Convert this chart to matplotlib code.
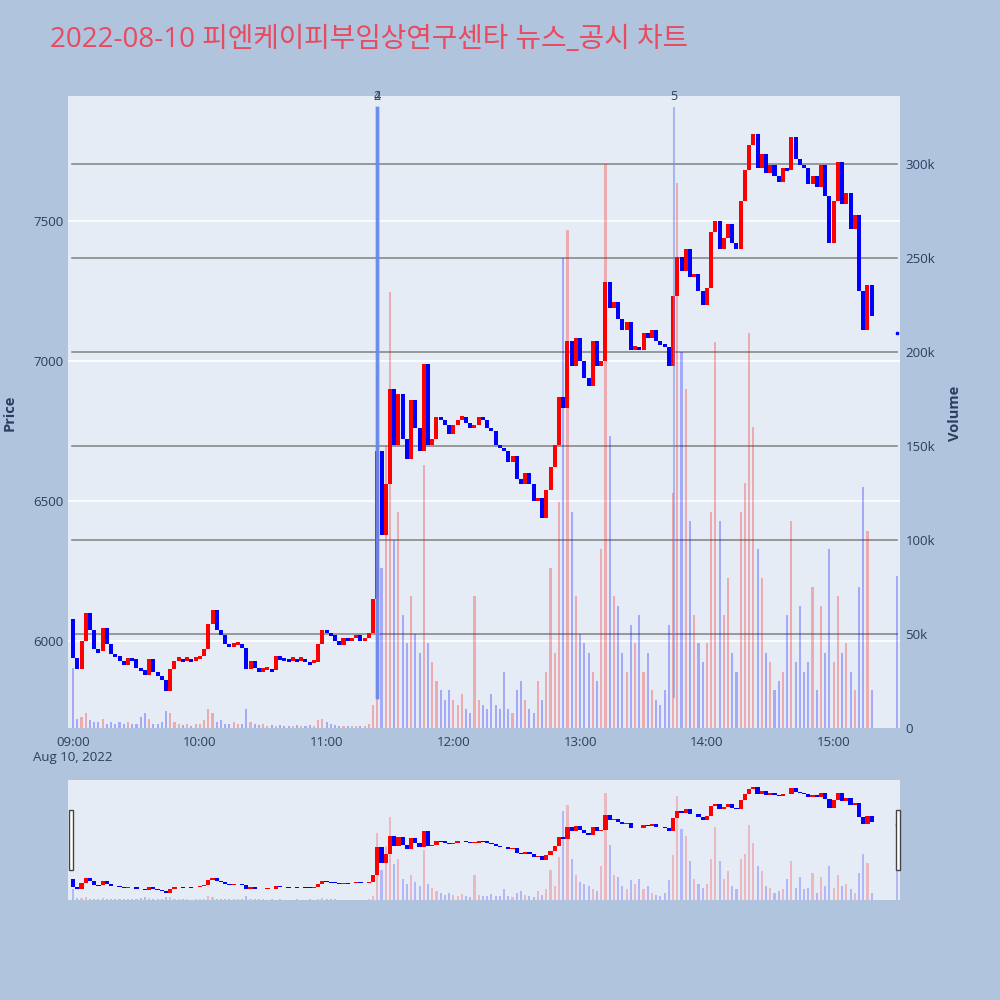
import numpy as np
import matplotlib
matplotlib.use("Agg")
import matplotlib.pyplot as plt
from matplotlib.patches import Rectangle
from matplotlib.transforms import blended_transform_factory

# ── data (2-minute candles from 09:00) ────────────────────────────────
minutes = np.arange(0, 380, 2)
first_open = 6080
closes = [
    5940, 5900, 6000, 6100, 6040, 5970, 5965, 6045, 5990, 5955,
    5945, 5930, 5915, 5940, 5935, 5905, 5895, 5880, 5935, 5890,
    5875, 5860, 5820, 5900, 5930, 5935, 5930, 5935, 5930, 5935,
    5945, 5970, 6060, 6110, 6040, 6020, 5990, 5980, 5985, 5990,
    5975, 5900, 5930, 5905, 5890, 5895, 5900, 5895, 5945, 5940,
    5935, 5930, 5935, 5930, 5935, 5925, 5920, 5925, 5990, 6040,
    6030, 6020, 6000, 5985, 6010, 6000, 6010, 6020, 6000, 6010,
    6030, 6150, 6680, 6380, 6560, 6900, 6700, 6880, 6720, 6650,
    6860, 6760, 6680, 6990, 6700, 6720, 6800, 6790, 6770, 6740,
    6770, 6790, 6800, 6780, 6760, 6770, 6800, 6790, 6760, 6750,
    6700, 6690, 6680, 6640, 6660, 6580, 6560, 6600, 6560, 6500,
    6510, 6440, 6540, 6620, 6700, 6870, 6830, 7070, 6980, 7080,
    7000, 6940, 6910, 7070, 6980, 7000, 7280, 7190, 7210, 7150,
    7110, 7140, 7040, 7050, 7040, 7100, 7080, 7110, 7070, 7060,
    7050, 6980, 7230, 7370, 7320, 7400, 7300, 7310, 7250, 7200,
    7260, 7460, 7500, 7400, 7440, 7490, 7420, 7400, 7570, 7680,
    7770, 7810, 7690, 7740, 7670, 7700, 7660, 7640, 7690, 7680,
    7800, 7720, 7700, 7690, 7630, 7660, 7620, 7700, 7590, 7420,
    7570, 7710, 7560, 7600, 7470, 7520, 7250, 7110, 7270, 7160,
]
volumes = [
    32000, 5000, 6000, 8000, 4000, 3000, 3000, 5000, 2000, 3000,
    2000, 3000, 2000, 3000, 2000, 2000, 6000, 8000, 5000, 2000,
    2000, 3000, 9000, 8000, 3000, 2000, 1500, 2000, 1000, 2000,
    2000, 4000, 10000, 8000, 3000, 4000, 2000, 2000, 3000, 2000,
    2000, 10000, 3000, 2000, 1500, 2000, 1000, 1500, 1000, 1500,
    1000, 1000, 1000, 1500, 1000, 1000, 1500, 1000, 4000, 5000,
    3000, 2000, 1500, 1000, 1000, 800, 1000, 1000, 800, 1000,
    2000, 12000, 188000, 85000, 150000, 232000, 100000, 115000, 60000, 45000,
    70000, 50000, 40000, 140000, 45000, 35000, 25000, 20000, 15000, 20000,
    15000, 12000, 18000, 10000, 8000, 70000, 15000, 12000, 10000, 18000,
    12000, 10000, 30000, 10000, 8000, 20000, 25000, 15000, 10000, 8000,
    25000, 15000, 30000, 85000, 40000, 120000, 250000, 265000, 115000, 70000,
    50000, 45000, 40000, 30000, 25000, 95000, 300000, 155000, 70000, 65000,
    40000, 30000, 55000, 45000, 60000, 30000, 40000, 20000, 15000, 12000,
    20000, 55000, 125000, 290000, 200000, 180000, 110000, 60000, 45000, 35000,
    45000, 115000, 205000, 110000, 60000, 80000, 40000, 30000, 115000, 130000,
    210000, 160000, 95000, 80000, 40000, 35000, 20000, 25000, 30000, 60000,
    110000, 35000, 65000, 30000, 35000, 75000, 20000, 65000, 40000, 95000,
    35000, 70000, 40000, 45000, 30000, 20000, 75000, 128000, 105000, 20000,
]
# closing auction print at 15:30
close_minute, close_price, close_volume = 390, 7100, 81000

# news markers (minute offset, label)
news = [(144, "2"), (144, "4"), (284.5, "5")]

price_ticks = [6000, 6500, 7000, 7500]
vol_ticks = [0, 50000, 100000, 150000, 200000, 250000, 300000]
vol_labels = ["0", "50k", "100k", "150k", "200k", "250k", "300k"]
time_ticks = [0, 60, 120, 180, 240, 300, 360]
time_labels = ["09:00", "10:00", "11:00", "12:00", "13:00", "14:00", "15:00"]

TITLE = "2022-08-10 피엔케이피부임상연구센타 뉴스_공시 차트"

BG = "#b0c4de"
PLOT_BG = "#e5ecf6"
FONT_C = "#2a3f5f"
UP, DOWN = "#ff0000", "#0000ff"

closes = np.array(closes, dtype=float)
opens = np.concatenate([[first_open], closes[:-1]])
colors = np.where(closes >= opens, UP, DOWN)
body = closes - opens
body = np.where(np.abs(body) < 12, np.where(body >= 0, 12, -12), body)

plt.rcParams['font.family'] = ['Open Sans', 'DejaVu Sans']

fig = plt.figure(figsize=(10, 10), dpi=100, facecolor=BG)
XLIM = (-2.4, 391.4)
PLIM = (5689, 7946)
VLIM = (0, 336000)


def draw_chart(ax_vol, ax_price, vol_alpha=0.28, cw=1.9):
    ax_vol.set_facecolor(PLOT_BG)
    ax_price.patch.set_visible(False)
    ax_vol.bar(minutes, volumes, width=1.0, color=colors, alpha=vol_alpha,
               linewidth=0, zorder=2)
    ax_vol.bar([close_minute], [close_volume], width=1.0, color=DOWN,
               alpha=vol_alpha, linewidth=0, zorder=2)
    ax_price.bar(minutes, body, bottom=opens, width=cw, color=colors,
                 linewidth=0, zorder=3)
    ax_price.plot([close_minute], [close_price], 's', ms=1.5, color=DOWN)
    ax_vol.set_xlim(*XLIM)
    ax_vol.set_ylim(*VLIM)
    ax_price.set_ylim(*PLIM)
    for a in (ax_vol, ax_price):
        for s in a.spines.values():
            s.set_visible(False)


# ── main panel ────────────────────────────────────────────
ax_vol = fig.add_axes([0.068, 0.272, 0.832, 0.632])
ax_price = ax_vol.twinx()
draw_chart(ax_vol, ax_price, vol_alpha=0.28)

# grid: white price lines, grey volume lines
tr = blended_transform_factory(ax_vol.transAxes, ax_price.transData)
for p in price_ticks:
    ax_vol.plot([0, 1], [p, p], color="white", lw=1.2, transform=tr, zorder=1)
trv = blended_transform_factory(ax_vol.transAxes, ax_vol.transData)
for v in vol_ticks[1:]:
    ax_vol.plot([0.005, 0.996], [v, v], color="#808080", lw=1.1,
                transform=trv, zorder=1.5)

ax_price.yaxis.tick_left()
ax_vol.yaxis.tick_right()
ax_price.set_yticks(price_ticks)
ax_price.set_yticklabels([str(p) for p in price_ticks])
ax_vol.set_yticks(vol_ticks)
ax_vol.set_yticklabels(vol_labels)
ax_vol.set_xticks(time_ticks)
ax_vol.set_xticklabels(time_labels)
for a in (ax_vol, ax_price):
    a.tick_params(length=0, labelsize=9.5, labelcolor=FONT_C, pad=4)
ax_price.tick_params(axis='y', pad=3)
ax_vol.tick_params(axis='x', pad=6)

# news markers
for t, lab in news:
    ax_price.plot([t, t], [5800, 7903], color="#6688ee",
                  alpha=0.75 if lab != "5" else 0.5,
                  lw=2.5 if lab != "5" else 1.5, zorder=4)
trx = blended_transform_factory(ax_price.transData, ax_price.transAxes)
for t, lab in news:
    ax_price.text(t, 1.0, lab, transform=trx, ha="center", va="center",
                  fontsize=9, color=FONT_C, clip_on=False)

fig.text(0.073, 0.242, "Aug 10, 2022", ha="center", va="center",
         fontsize=9.5, color=FONT_C)
fig.text(0.010, 0.587, "Price", rotation=90, ha="center", va="center",
         fontsize=10.5, fontweight="bold", color=FONT_C)
fig.text(0.955, 0.587, "Volume", rotation=90, ha="center", va="center",
         fontsize=10.5, fontweight="bold", color=FONT_C)

# ── range slider ──────────────────────────────────────────
ax_s = fig.add_axes([0.068, 0.100, 0.832, 0.120])
ax_sp = ax_s.twinx()
draw_chart(ax_s, ax_sp, vol_alpha=0.22, cw=2.0)
for a in (ax_s, ax_sp):
    a.set_xticks([])
    a.set_yticks([])
for hx in (0.0693, 0.8955):
    fig.patches.append(Rectangle((hx, 0.130), 0.004, 0.060,
                                 transform=fig.transFigure, facecolor="white",
                                 edgecolor="#444444", lw=1, zorder=10))

fig.text(0.050, 0.960, TITLE, ha="left", va="center", fontsize=20,
         color="#e84a5f", family=["Open Sans", "Noto Sans CJK KR"])

fig.savefig("out.png", dpi=100, facecolor=BG)
